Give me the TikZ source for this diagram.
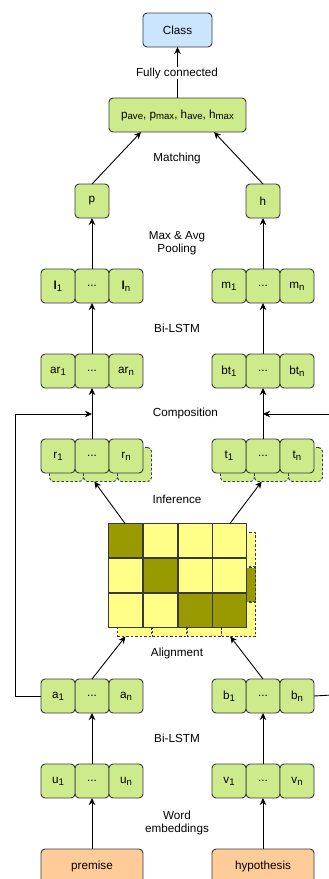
\documentclass[tikz,border=0pt]{standalone}
\usepackage{fontspec}
\setmainfont{Liberation Sans}
\usetikzlibrary{arrows.meta, positioning, matrix, calc, backgrounds}
\definecolor{borderGray}{HTML}{36393D}
\definecolor{cellGreen}{HTML}{CDEB8B}
\definecolor{classBlue}{HTML}{CCE5FF}
\definecolor{inputOrange}{HTML}{FFCC99}
\definecolor{gridYellow}{HTML}{FFFF88}
\definecolor{gridOlive}{HTML}{999900}
\newcommand{\subidx}[1]{\raisebox{-0.3ex}{\fontsize{9.6}{10}\selectfont #1}}

\begin{document}
\begin{tikzpicture}
	[
	x=1pt, y=-1pt,
	node distance=51pt and 0pt,
	font=\fontsize{11.7}{13.5}\selectfont,
        vectorCell/.style={
            rectangle,
            rounded corners=4pt,
            draw=borderGray,
            fill=cellGreen,
            line width=0.9pt,
            minimum width=34pt,
            minimum height=34pt,
            inner sep=0pt,
            outer sep=0pt
        },
        shadowCell/.style={
            vectorCell,
            dash pattern=on 2.5pt off 2pt
        },
        outputBox/.style={
            vectorCell,
            fill=classBlue,
            minimum width=69pt
        },
        inputBox/.style={
            vectorCell,
            fill=inputOrange,
            minimum width=102pt
        },
        gridCell/.style={
            rectangle,
            draw=borderGray,
            fill=gridYellow,
            line width=0.9pt,
            minimum width=34pt,
            minimum height=34pt,
            inner sep=0pt,
            outer sep=0pt
        },
        darkCell/.style={
            fill=gridOlive
        },
        gridShadow/.style={
            gridCell,
            dash pattern=on 2.5pt off 2pt
        },
        stepLabel/.style={
            align=center,
            fill=white,
            inner sep=1pt
        },
        actionArrow/.style={
            -{Stealth[length=7pt, width=6.5pt, inset=2.2pt]},
            line width=0.9pt
        }
    ]
    \useasboundingbox (0,0) rectangle (329,879);
    \clip (0,0) rectangle (329,879);

    % premise side
    \node(premise) [inputBox] at (92,866) {premise};
    \node(uDots) [vectorCell, above=of premise] {...};
    \node(uFirst) [vectorCell, left=of uDots] {u\subidx{1}};
    \node(uLast) [vectorCell, right=of uDots] {u\subidx{n}};
    \node(aDots) [vectorCell, above=of uDots] {...};
    \node(aFirst) [vectorCell, left=of aDots] {a\subidx{1}};
    \node(aLast) [vectorCell, right=of aDots] {a\subidx{n}};
    \node(rDots) [vectorCell] at (92,456) {...};
    \node(rFirst) [vectorCell, left=of rDots] {r\subidx{1}};
    \node(rLast) [vectorCell, right=of rDots] {r\subidx{n}};
    \node(arDots) [vectorCell, above=of rDots] {...};
    \node(arFirst) [vectorCell, left=of arDots] {ar\subidx{1}};
    \node(arLast) [vectorCell, right=of arDots] {ar\subidx{n}};
    \node(lDots) [vectorCell, above=of arDots] {...};
    \node(lFirst) [vectorCell, left=of lDots] {\textbf{l}\subidx{1}};
    \node(lLast) [vectorCell, right=of lDots] {\textbf{l}\subidx{n}};
    \node(vecP) [vectorCell, above=of lDots] {p};

    % hypothesis side
    \node(hypothesis) [inputBox] at (263,866) {hypothesis};
    \node(vDots) [vectorCell, above=of hypothesis] {...};
    \node(vFirst) [vectorCell, left=of vDots] {v\subidx{1}};
    \node(vLast) [vectorCell, right=of vDots] {v\subidx{n}};
    \node(bDots) [vectorCell, above=of vDots] {...};
    \node(bFirst) [vectorCell, left=of bDots] {b\subidx{1}};
    \node(bLast) [vectorCell, right=of bDots] {b\subidx{n}};
    \node(tDots) [vectorCell] at (263,456) {...};
    \node(tFirst) [vectorCell, left=of tDots] {t\subidx{1}};
    \node(tLast) [vectorCell, right=of tDots] {t\subidx{n}};
    \node(btDots) [vectorCell, above=of tDots] {...};
    \node(btFirst) [vectorCell, left=of btDots] {bt\subidx{1}};
    \node(btLast) [vectorCell, right=of btDots] {bt\subidx{n}};
    \node(mDots) [vectorCell, above=of btDots] {...};
    \node(mFirst) [vectorCell, left=of mDots] {m\subidx{1}};
    \node(mLast) [vectorCell, right=of mDots] {m\subidx{n}};
    \node(vecH) [vectorCell, above=of mDots] {h};

    % top
    \node(pooled) [vectorCell, minimum width=137pt] at (177.5,115) {p\subidx{ave}, p\subidx{max}, h\subidx{ave}, h\subidx{max}};
    \node(class) [outputBox, above=of pooled] {Class};

    % alignment grid
    \matrix(alignGrid) [matrix of nodes, nodes in empty cells, nodes={gridCell}, column sep=0pt, row sep=0pt, inner sep=0pt, outer sep=0pt] at (177.5,575.5) {
        |[darkCell]| & & & \\
        & |[darkCell]| & & \\
        & & |[darkCell]| & |[darkCell]| \\
    };

    % shadows
    \begin{pgfonlayer}{background}
    \node(rShadowFirst) [shadowCell] at ($(rFirst)+(8.5,8.5)$) {};
    \node(rShadowDots) [shadowCell] at ($(rDots)+(8.5,8.5)$) {};
    \node(rShadowLast) [shadowCell] at ($(rLast)+(8.5,8.5)$) {};
    \node(tShadowFirst) [shadowCell] at ($(tFirst)+(8.5,8.5)$) {};
    \node(tShadowDots) [shadowCell] at ($(tDots)+(8.5,8.5)$) {};
    \node(tShadowLast) [shadowCell] at ($(tLast)+(8.5,8.5)$) {};
    \matrix(alignShadow) [matrix of nodes, nodes in empty cells, nodes={gridShadow}, column sep=0pt, row sep=0pt, inner sep=0pt, outer sep=0pt] at (186.5,584.5) {
        & & & \\
        & & & |[darkCell]| \\
        & & & \\
    };
    \end{pgfonlayer}

    \coordinate(leftTurn) at (15,414);
    \coordinate(rightOutLow) at (332,695);
    \coordinate(rightOutHigh) at (332,414);

    \draw[actionArrow] (premise)--(uDots);
    \draw[actionArrow] (uDots)--(aDots);
    \draw[actionArrow] (aDots.north)--(alignShadow-3-1.-117);
    \draw[actionArrow] (alignGrid-1-1.north)--(rShadowDots.-110);
    \draw[actionArrow] (rDots)--(arDots);
    \draw[actionArrow] (arDots)--(lDots);
    \draw[actionArrow] (lDots)--(vecP);
    \draw[actionArrow] (vecP.north)--(pooled.-155);

    \draw[actionArrow] (hypothesis)--(vDots);
    \draw[actionArrow] (vDots)--(bDots);
    \draw[actionArrow] (bDots.north)--(alignShadow-3-4.-117);
    \draw[actionArrow] (alignGrid-1-4.north)--(tShadowDots.-120);
    \draw[actionArrow] (tDots)--(btDots);
    \draw[actionArrow] (btDots)--(mDots);
    \draw[actionArrow] (mDots)--(vecH);
    \draw[actionArrow] (vecH.north)--(pooled.-25);

    \draw[actionArrow] (pooled)--(class);

    \draw[actionArrow] (aFirst.west) -| (leftTurn) -- (rDots |- leftTurn);
    \draw[line width=0.9pt] (bLast.east) -- (rightOutLow);
    \draw[actionArrow] (rightOutHigh) -- (tDots |- rightOutHigh);

    \node(labelFully) [stepLabel] at (177,73) {Fully connected};
    \node(labelMatching) [stepLabel] at (177,158) {Matching};
    \node(labelPooling) [stepLabel] at (177,243) {Max \& Avg\\Pooling};
    \node(labelTopLstm) [stepLabel] at (177,328) {Bi-LSTM};
    \node(labelComposition) [stepLabel] at (185.5,413) {Composition};
    \node(labelInference) [stepLabel] at (177,499) {Inference};
    \node(labelAlignment) [stepLabel] at (177,653) {Alignment};
    \node(labelBottomLstm) [stepLabel] at (177,738) {Bi-LSTM};
    \node(labelEmbeddings) [stepLabel] at (177,823) {Word\\embeddings};
\end{tikzpicture}
\end{document}
